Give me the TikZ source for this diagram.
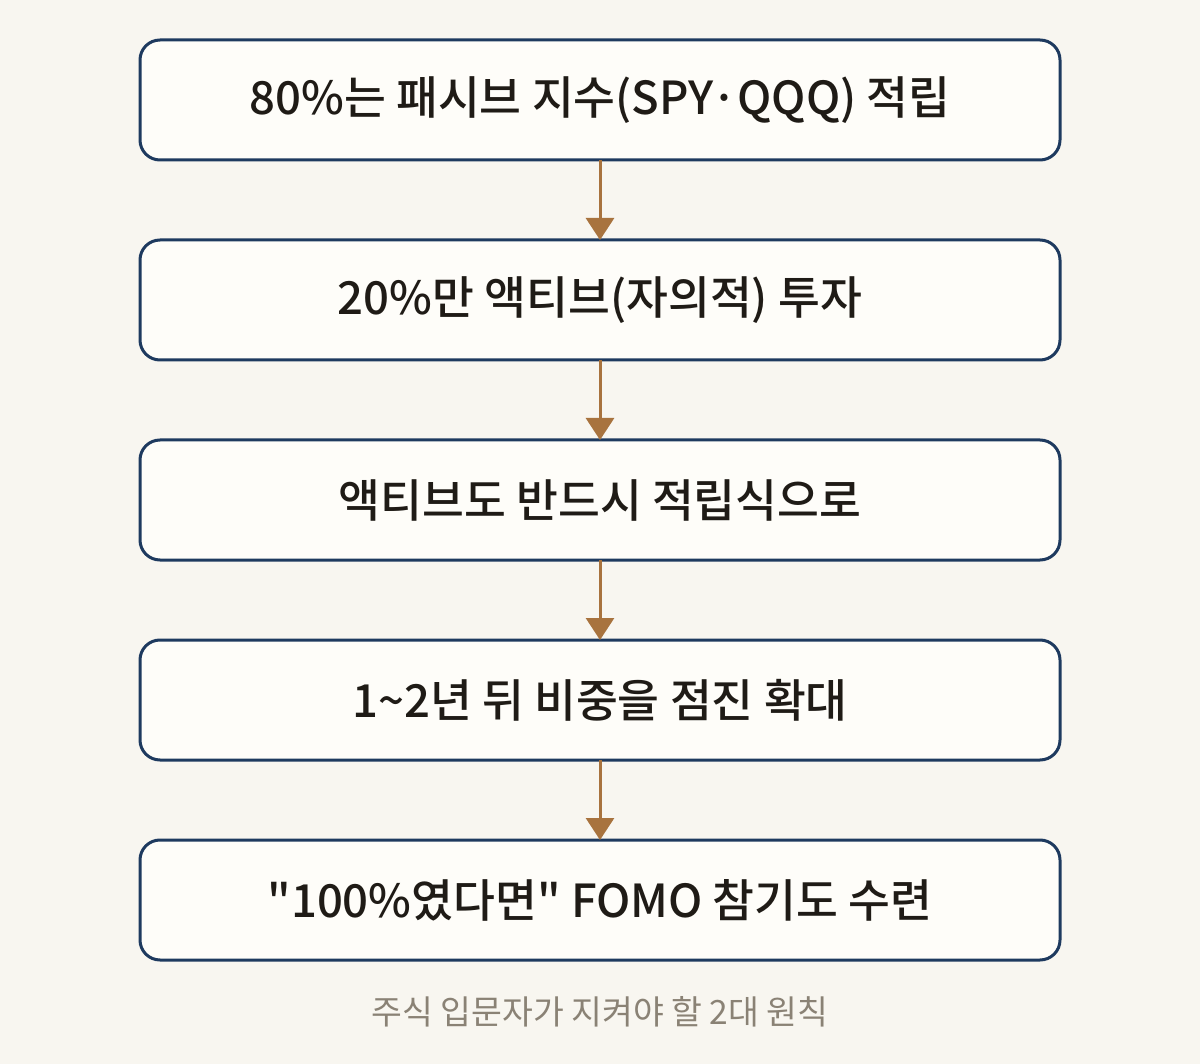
\documentclass[tikz,border=0pt]{standalone}
\usepackage{fontspec}
\setmainfont{Noto Sans CJK KR}
\newfontfamily\medfont{Noto Sans CJK KR Medium}
\usetikzlibrary{positioning,arrows.meta}
\definecolor{bgcol}{HTML}{F8F6F0}
\definecolor{boxfill}{HTML}{FEFDF9}
\definecolor{boxline}{HTML}{1E3A5F}
\definecolor{arrowcol}{HTML}{A8733E}
\definecolor{txtcol}{HTML}{1F1B16}
\definecolor{capcol}{HTML}{8A8275}
\tikzset{
  stepbox/.style={draw=boxline, fill=boxfill, line width=3pt, rounded corners=20pt,
    minimum width=920pt, minimum height=120pt, outer sep=0pt, text=txtcol,
    font=\medfont\fontsize{45.5}{52}\selectfont},
  flow/.style={draw=arrowcol, line width=3pt, -{Triangle[width=28pt,length=22pt]}}
}

\begin{document}
\begin{tikzpicture}[x=1pt,y=1pt]
    \pgfmathsetmacro{\gap}{80}
    % background, 1200 x 1064
    \fill[bgcol] (0,0) rectangle (1200,-1064);
    \useasboundingbox (0,0) rectangle (1200,-1064);

    \node[stepbox] (s1) at (600,-100) {80\%는 패시브 지수(SPY·QQQ) 적립};
    \node[stepbox, below=\gap pt of s1] (s2) {20\%만 액티브(자의적) 투자};
    \node[stepbox, below=\gap pt of s2] (s3) {액티브도 반드시 적립식으로};
    \node[stepbox, below=\gap pt of s3] (s4) {1\textasciitilde2년 뒤 비중을 점진 확대};
    \node[stepbox, below=\gap pt of s4] (s5) {\textquotedbl100\%였다면\textquotedbl{} FOMO 참기도 수련};

    \draw[flow] (s1) -- (s2);
    \draw[flow] (s2) -- (s3);
    \draw[flow] (s3) -- (s4);
    \draw[flow] (s4) -- (s5);

    % caption
    \node[text=capcol, font=\fontsize{33.5}{38}\selectfont] (cap) at (600,-1012) {주식 입문자가 지켜야 할 2대 원칙};
\end{tikzpicture}
\end{document}
